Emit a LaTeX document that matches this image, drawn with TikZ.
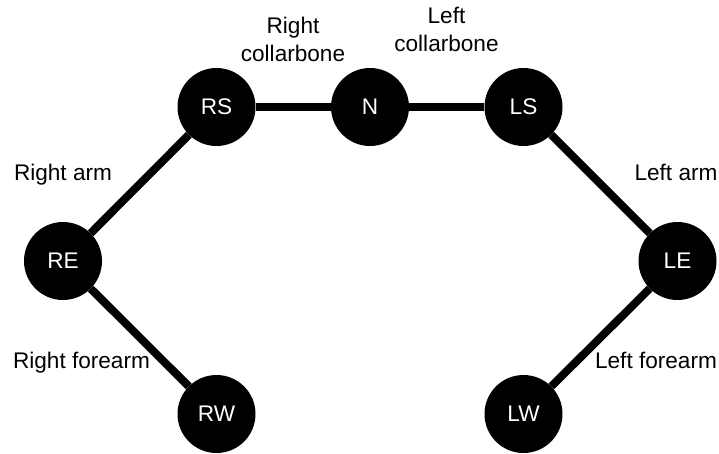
\documentclass[tikz,border=0pt]{standalone}
\usepackage{fontspec}
\setmainfont{Liberation Sans}
\begin{document}
\begin{tikzpicture}[x=1pt,y=-1pt,
  joint/.style={circle, fill=black, draw=none, minimum size=78pt, inner sep=0pt, text=white, font=\fontsize{22.6}{28.5}\selectfont},
  bone/.style={line width=8pt, black},
  lbl/.style={font=\fontsize{22.6}{28.5}\selectfont, align=center, inner sep=0pt}]
\useasboundingbox (0,0) rectangle (719,453);
\node[joint] (RS) at (216.5,107) {RS};
\node[joint] (N) at (370,107) {N};
\node[joint] (LS) at (523.5,107) {LS};
\node[joint] (RE) at (63,261) {RE};
\node[joint] (LE) at (677.5,261) {LE};
\node[joint] (RW) at (216.5,414) {RW};
\node[joint] (LW) at (523.5,414) {LW};
\draw[bone] (RS) -- (N);
\draw[bone] (N) -- (LS);
\draw[bone] (RS) -- (RE);
\draw[bone] (RE) -- (RW);
\draw[bone] (LS) -- (LE);
\draw[bone] (LE) -- (LW);
\node[lbl, anchor=south] (lrc) at (293,62) {Right\\collarbone};
\node[lbl, anchor=south] (llc) at (446.5,52) {Left\\collarbone};
\node[lbl, anchor=base] (lra) at (63,180.7) {Right arm};
\node[lbl, anchor=base] (lla) at (676,180.7) {Left arm};
\node[lbl, anchor=base] (lrf) at (81.5,368) {Right forearm};
\node[lbl, anchor=base] (llf) at (656,368) {Left forearm};
\end{tikzpicture}
\end{document}
